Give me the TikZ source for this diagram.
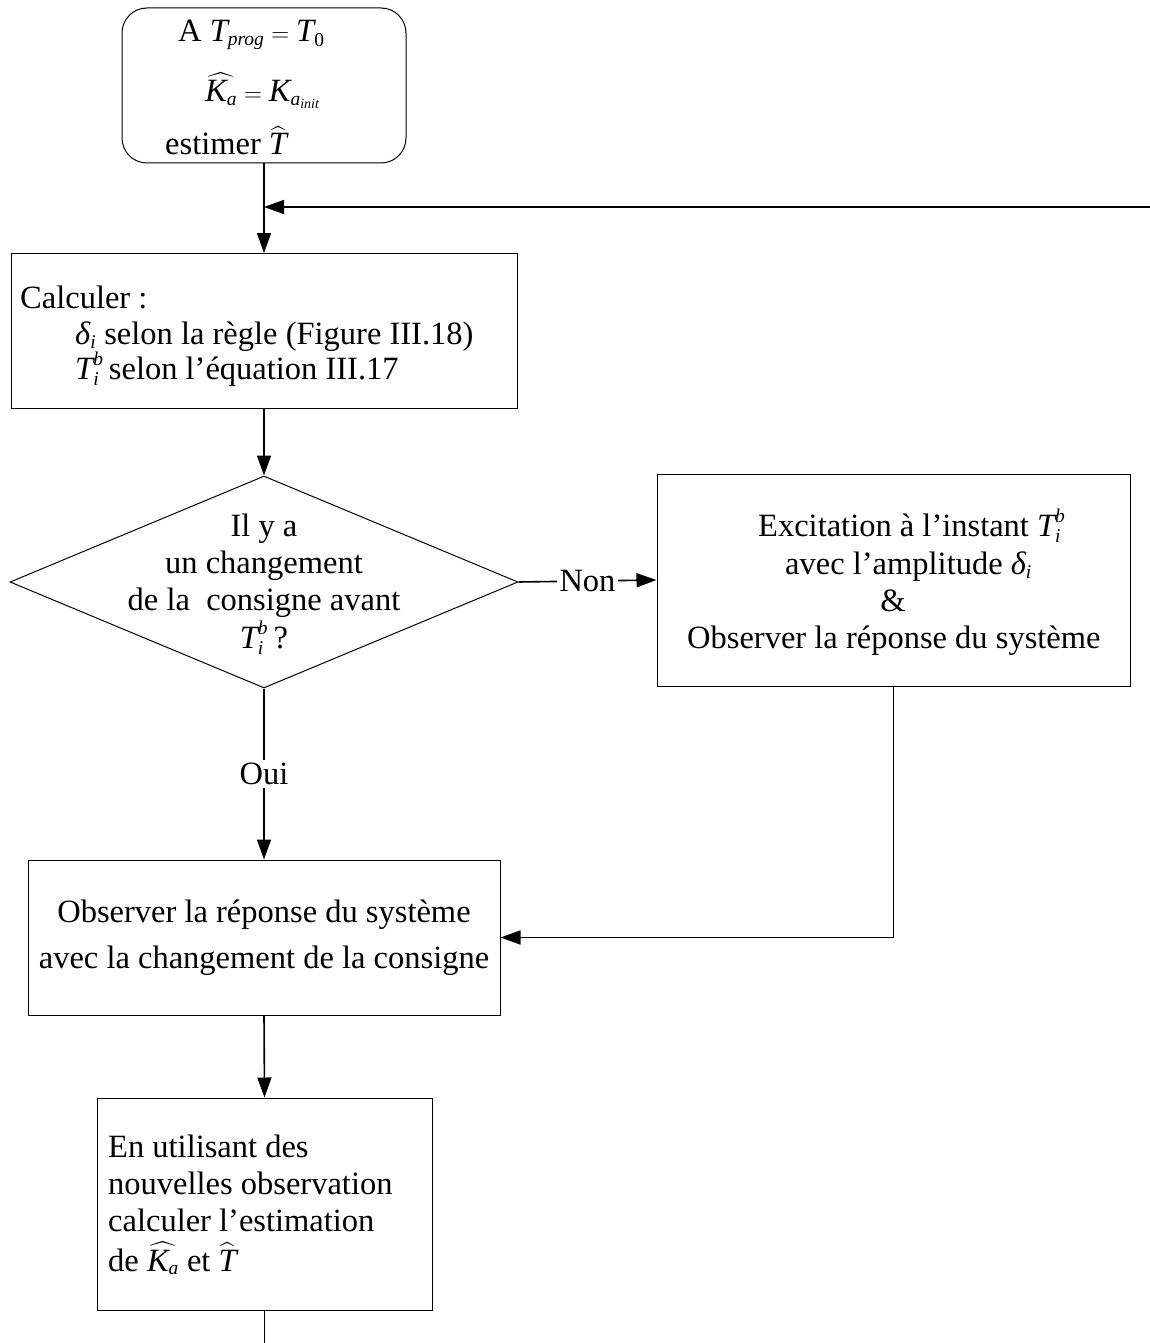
\documentclass[tikz,border=0pt]{standalone}
\usepackage{amsmath}
\usepackage{fontspec}
\setmainfont{Liberation Serif}
\usetikzlibrary{shapes.geometric,arrows.meta,calc}
\DeclareMathSizes{32.5}{32.5}{19.5}{14}
\newcommand\mv[1]{\textit{#1}}
\newcommand\Tib{\mv{T}_{\mv{i}}^{\mv{b}}}
\newcommand\dii{\mv{δ}_{\mv{i}}}
\begin{document}
\begin{tikzpicture}[x=1pt,y=-1pt,
  every node/.style={font=\fontsize{32.5}{38}\selectfont, inner sep=0pt},
  box/.style={draw, line width=1pt},
  conn/.style={line width=1.6pt},
  arr/.style={conn, -{Triangle[length=20pt,width=14pt]}},
  lbl/.style={fill=white, inner sep=3pt},
  txt/.style={anchor=base west},
  ctxt/.style={anchor=base}]
\useasboundingbox (0,0) rectangle (1150,1343);

% start box
\node[box, rounded corners=25pt, minimum width=284pt, minimum height=155pt] (start) at (264,85.5) {};
\node[txt] (t1) at (178,42) {A $\mv{T}_{\mv{prog}}=\mv{T}_{\text{0}}$};
\node[txt] (t2) at (205,102) {$\widehat{\mv{K}_{\mv{a}}}=\mv{K}_{\mv{a}_{\mv{init}}}$};
\node[txt] (t3) at (165,155) {estimer $\widehat{\mv{T}}$};

% calculer box
\node[box, minimum width=506pt, minimum height=155pt] (calc) at (264,331) {};
\node[txt] (c1) at (20,308) {Calculer :};
\node[txt] (c2) at (75,344) {$\dii$ selon la règle (Figure III.18)};
\node[txt] (c3) at (75,379) {$\Tib$\,selon l’équation III.17};

% decision
\node[draw, diamond, line width=1pt, minimum width=508pt, minimum height=212pt, aspect=2.4] (dec) at (264,582) {};
\node[ctxt] (d1) at (264,536) {Il y a};
\node[ctxt] (d2) at (264,573) {un changement};
\node[ctxt] (d3) at (264,610) {de la\ \ consigne avant};
\node[ctxt] (d4) at (264,648) {$\Tib$\,?};

% excitation box
\node[box, minimum width=473pt, minimum height=212pt] (exc) at (893.5,580) {};
\node[txt] (e1) at (758,536) {Excitation à l’instant $\Tib$};
\node[txt] (e2) at (785,574) {avec l’amplitude $\dii$};
\node[ctxt] (e3) at (893,611) {\&};
\node[txt] (e4) at (687,648) {Observer la réponse du système};

% observer box
\node[box, minimum width=472pt, minimum height=155pt] (obs) at (264,937.5) {};
\node[ctxt] (o1) at (264,922) {Observer la réponse du système};
\node[ctxt] (o2) at (264,968) {avec la changement de la consigne};

% estimation box
\node[box, minimum width=335pt, minimum height=212pt] (est) at (264.5,1204) {};
\node[txt] (s1) at (108,1157) {En utilisant des};
\node[txt] (s2) at (108,1194) {nouvelles observation};
\node[txt] (s3) at (108,1231) {calculer l’estimation};
\node[txt] (s4) at (108,1271) {de $\widehat{\mv{K}_{\mv{a}}}$ et $\widehat{\mv{T}}$};

% connectors
\coordinate (fb) at (1150,207);
\coordinate (endpt) at (264.5,1343);
\draw[arr] (start.south) -- (calc.north);
\draw[arr] (fb) -- (fb -| start.south);
\draw[arr] (calc.south) -- (dec.north);
\draw[arr] (dec.east) -- node[lbl] (non) {Non} (exc.west);
\draw[arr] (dec.south) -- node[lbl] (oui) {Oui} (obs.north);
\draw[arr] (exc.south) |- (obs.east);
\draw[arr] (obs.south) -- (est.north);
\draw[conn] (est.south) -- (endpt);
\end{tikzpicture}
\end{document}
